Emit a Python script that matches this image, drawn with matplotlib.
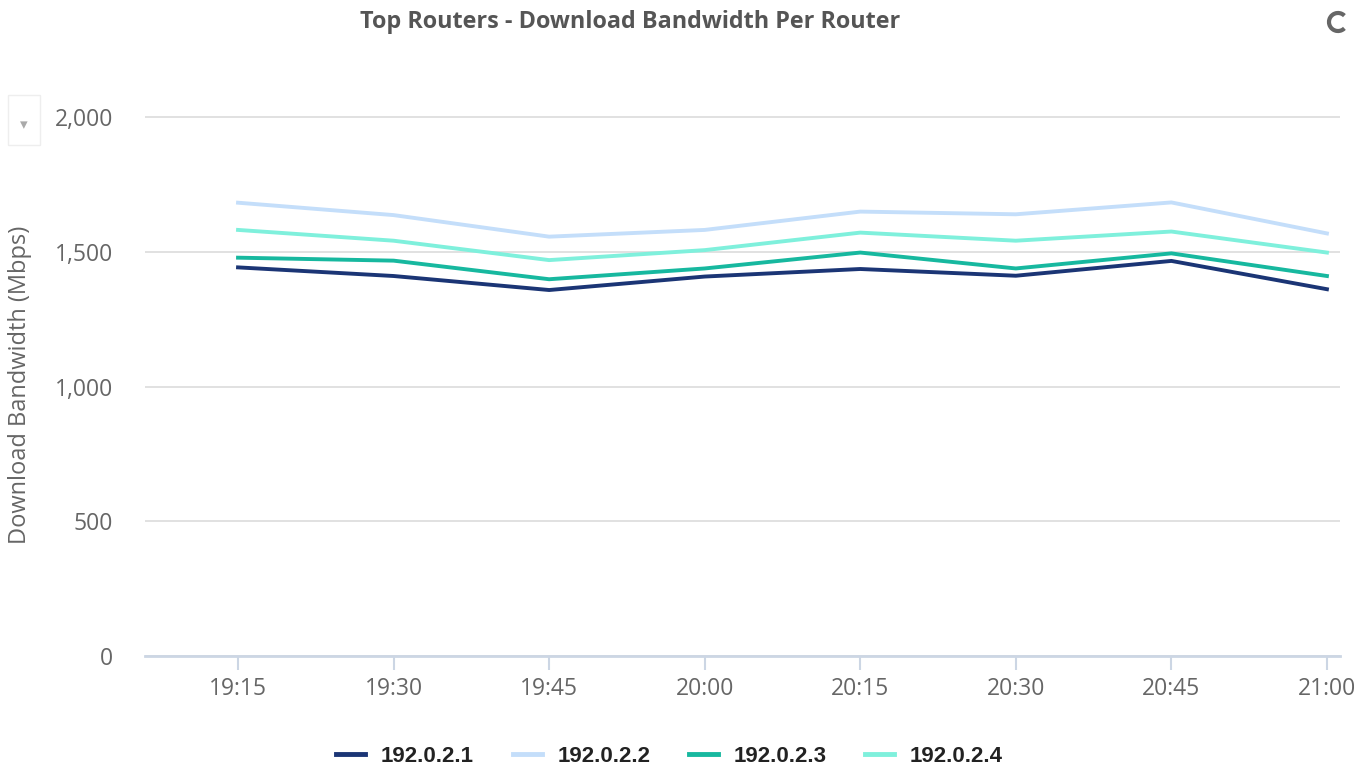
import numpy as np
import matplotlib.pyplot as plt
from matplotlib.patches import Rectangle, Arc

# time slots and per-router download bandwidth (Mbps)
times = ["19:15", "19:30", "19:45", "20:00", "20:15", "20:30", "20:45", "21:00"]
routers = ["192.0.2.1", "192.0.2.2", "192.0.2.3", "192.0.2.4"]
bw_r1 = [1442, 1410, 1358, 1408, 1436, 1411, 1466, 1361]
bw_r2 = [1682, 1636, 1556, 1581, 1649, 1639, 1683, 1568]
bw_r3 = [1478, 1467, 1398, 1438, 1497, 1438, 1494, 1410]
bw_r4 = [1581, 1541, 1469, 1506, 1571, 1541, 1575, 1497]
colors = ["#1b3575", "#c4defa", "#17b89f", "#7ff0dc"]

plt.rcParams['font.family'] = ['Open Sans', 'DejaVu Sans']

fig = plt.figure(figsize=(13.54, 7.75), dpi=100)
ax = fig.add_axes([145 / 1354, 1 - 656 / 775, (1340 - 145) / 1354, (656 - 117) / 775 * 1.14])

x = np.arange(len(times))
for vals, name, c in zip([bw_r1, bw_r2, bw_r3, bw_r4], routers, colors):
    ax.plot(x, vals, color=c, lw=2.8, label=name, solid_joinstyle="round")

ax.set_xlim(-0.598, 7.084)
ax.set_ylim(0, 2000 * 1.14)
ax.set_yticks([0, 500, 1000, 1500, 2000])
ax.set_yticklabels(["0", "500", "1,000", "1,500", "2,000"])
ax.set_xticks(x)
ax.set_xticklabels(times)
ax.grid(axis="y", color="#dcdcdc", lw=1.2)
ax.set_axisbelow(True)

for s in ["top", "right", "left"]:
    ax.spines[s].set_visible(False)
ax.spines["bottom"].set_color("#ccd6e4")
ax.spines["bottom"].set_linewidth(2)
ax.tick_params(axis="y", length=0, pad=23, labelsize=16.5, labelcolor="#666666")
ax.tick_params(axis="x", length=10, width=1.5, color="#ccd6e4", pad=5,
               labelsize=16.5, labelcolor="#666666")
ax.set_ylabel("Download Bandwidth (Mbps)", fontsize=17, color="#666666")
ax.yaxis.set_label_coords(-113 / 1195, (656 - 385) / (539 * 1.14))

fig.text(630 / 1354, 1 - 22 / 775, "Top Routers - Download Bandwidth Per Router",
         ha="center", va="center", fontsize=16.8, fontweight="bold", color="#555555")

leg = ax.legend(loc="center", bbox_to_anchor=(0.439, -0.164),
                ncol=4, frameon=False, handlelength=1.3,
                columnspacing=1.75, handletextpad=0.7,
                prop={"family": ["Liberation Sans Narrow", "Liberation Sans"],
                      "weight": "bold", "size": 16})
for t in leg.get_texts():
    t.set_color("#222222")
for h in leg.get_lines():
    h.set_linewidth(3.5)

# dropdown stub at top-left and refresh icon at top-right
fig.patches.append(Rectangle((8 / 1354, 1 - 145 / 775), 32 / 1354, 50 / 775,
                             transform=fig.transFigure, fill=False,
                             edgecolor="#eeeeee", lw=1))
fig.text(24 / 1354, 1 - 125 / 775, "\u25be", ha="center", va="center",
         fontsize=11, color="#aaaaaa", family="DejaVu Sans")
fig.patches.append(Arc((1338 / 1354, 1 - 22 / 775), 18 / 1354, 18 / 775,
                       theta1=60, theta2=300, transform=fig.transFigure,
                       color="#666666", lw=3))

fig.savefig("out.png", dpi=100)
